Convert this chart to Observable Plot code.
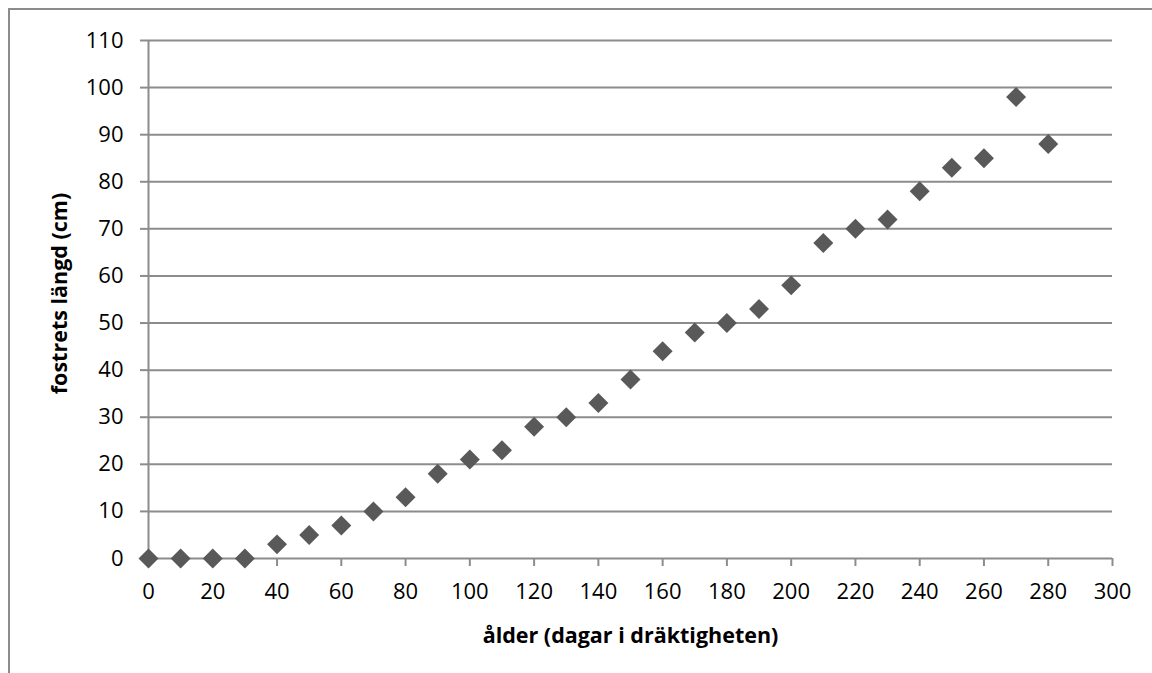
<!DOCTYPE html>
<html>
<head>
<meta charset="utf-8">
<script src="https://cdn.jsdelivr.net/npm/d3@7"></script>
<script src="https://cdn.jsdelivr.net/npm/@observablehq/plot@0.6"></script>
<style>
  html, body { margin: 0; padding: 0; background: #fff; overflow: hidden; }
  #wrap { position: relative; width: 1152px; height: 673px; }
  #border { position: absolute; left: 8px; top: 8px; width: 1200px; height: 700px; border: 2px solid #8c8c8c; box-sizing: border-box; pointer-events: none; }
  svg { font-family: "Open Sans", sans-serif; }
</style>
</head>
<body>
<div id="wrap"><div id="border"></div></div>
<script>
const days = [0, 10, 20, 30, 40, 50, 60, 70, 80, 90, 100, 110, 120, 130, 140, 150, 160, 170, 180, 190, 200, 210, 220, 230, 240, 250, 260, 270, 280];
const lengths = [0, 0, 0, 0, 3, 5, 7, 10, 13, 18, 21, 23, 28, 30, 33, 38, 44, 48, 50, 53, 58, 67, 70, 72, 78, 83, 85, 98, 88];
const xTicks = [0, 20, 40, 60, 80, 100, 120, 140, 160, 180, 200, 220, 240, 260, 280, 300];
const yTicks = [0, 10, 20, 30, 40, 50, 60, 70, 80, 90, 100, 110];
const xLabel = "ålder (dagar i dräktigheten)";
const yLabel = "fostrets längd (cm)";

const data = days.map((d, i) => ({day: d, len: lengths[i]}));
const grid = "#8c8c8c";

const chart = Plot.plot({
  width: 1152,
  height: 673,
  marginLeft: 148,
  marginRight: 40,
  marginTop: 40,
  marginBottom: 115,
  style: {background: "transparent", fontFamily: "'Open Sans', sans-serif"},
  x: {domain: [0, 300]},
  y: {domain: [0, 110]},
  marks: [
    Plot.ruleY(yTicks, {x1: 0, x2: 300, stroke: grid, strokeWidth: 2}),
    Plot.ruleX([0], {y1: 0, y2: 110, stroke: grid, strokeWidth: 2}),
    Plot.axisY({ticks: yTicks, tickSize: 8, tickPadding: 17, stroke: grid, strokeWidth: 2, fill: "#000", fontSize: 22, label: null, tickFormat: d => String(d)}),
    Plot.axisX({ticks: xTicks, tickSize: 8, tickPadding: 17, stroke: grid, strokeWidth: 2, fill: "#000", fontSize: 22, label: null, tickFormat: d => String(d)}),
    Plot.dot(data, {x: "day", y: "len", symbol: "diamond2", r: 9, fill: "#595959", stroke: "none"}),
    Plot.text([xLabel], {frameAnchor: "bottom", dy: 78, lineAnchor: "middle", textAnchor: "middle", fontSize: 21.5, fontWeight: "bold", fill: "#000"}),
    Plot.text([yLabel], {frameAnchor: "left", dx: -88, dy: -6, rotate: -90, lineAnchor: "middle", textAnchor: "middle", fontSize: 21.5, fontWeight: "bold", fill: "#000"})
  ]
});
chart.style.position = "absolute";
chart.style.left = "0";
chart.style.top = "0";
document.getElementById("wrap").appendChild(chart);
</script>
</body>
</html>
